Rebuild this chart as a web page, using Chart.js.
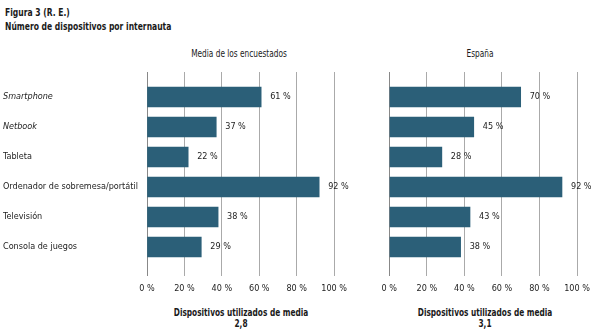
<!DOCTYPE html>
<html>
<head>
<meta charset="utf-8">
<script src="https://cdn.jsdelivr.net/npm/chart.js@4/dist/chart.umd.min.js"></script>
<style>
  html, body { margin: 0; padding: 0; background: #fff; }
  #wrap { position: relative; width: 600px; height: 336px; overflow: hidden;
          font-family: "DejaVu Sans Condensed", "DejaVu Sans", sans-serif; color: #1a1a1a; }
  .t { position: absolute; white-space: nowrap; }
  .l { transform-origin: 0 50%; transform: scaleX(0.77); }
  .c { transform-origin: 50% 50%; transform: scaleX(0.82); text-align: center; width: 200px; }
  #c1 { position: absolute; left: 0; top: 0; }
  #c2 { position: absolute; left: 345px; top: 0; }
</style>
</head>
<body>
<div id="wrap">
  <div class="t l" style="left:5px; top:6px; font-size:11px; font-weight:bold;">Figura 3 (R. E.)</div>
  <div class="t l" style="left:5px; top:20px; font-size:11px; font-weight:bold;">Número de dispositivos por internauta</div>
  <div class="t c" style="left:139px; top:48px; font-size:10px;">Media de los encuestados</div>
  <div class="t c" style="left:380px; top:48px; font-size:10px;">España</div>
  <div class="t c" style="left:141px; top:307px; font-size:10px; font-weight:bold;">Dispositivos utilizados de media</div>
  <div class="t c" style="left:141px; top:318px; font-size:10px; font-weight:bold;">2,8</div>
  <div class="t c" style="left:385px; top:307px; font-size:10px; font-weight:bold;">Dispositivos utilizados de media</div>
  <div class="t c" style="left:385px; top:318px; font-size:10px; font-weight:bold;">3,1</div>
  <canvas id="c1" width="354" height="336"></canvas>
  <canvas id="c2" width="255" height="336"></canvas>
</div>
<script>
const categories = ["Smartphone", "Netbook", "Tableta", "Ordenador de sobremesa/portátil", "Televisión", "Consola de juegos"];
const italicCategories = ["Smartphone", "Netbook"];
const mediaEncuestados = [61, 37, 22, 92, 38, 29];
const espana = [70, 45, 28, 92, 43, 38];
const xTicks = [0, 20, 40, 60, 80, 100];

const FONT = "'DejaVu Sans Condensed', 'DejaVu Sans', sans-serif";
const BAR = "#2b5f78";

const valueLabels = {
  id: "valueLabels",
  afterDatasetsDraw(chart) {
    const ctx = chart.ctx;
    const meta = chart.getDatasetMeta(0);
    ctx.save();
    ctx.font = "9px " + FONT;
    ctx.fillStyle = "#222";
    ctx.textAlign = "left";
    ctx.textBaseline = "middle";
    meta.data.forEach((el, i) => {
      const v = chart.data.datasets[0].data[i].x;
      ctx.fillText(v + " %", el.x + 9, el.y);
    });
    ctx.restore();
  }
};

function makeChart(id, values, showLabels, padLeft, padRight) {
  return new Chart(document.getElementById(id), {
    type: "bar",
    data: {
      datasets: [{
        data: values.map((v, i) => ({ x: v, y: i })),
        backgroundColor: BAR,
        borderWidth: 0,
        barThickness: 20
      }]
    },
    options: {
      indexAxis: "y",
      responsive: false,
      animation: false,
      layout: { padding: { left: padLeft, right: padRight, top: 72, bottom: 0 } },
      plugins: { legend: { display: false }, tooltip: { enabled: false } },
      scales: {
        x: {
          type: "linear",
          min: 0, max: 100,
          offset: false,
          afterBuildTicks: (s) => { s.ticks = xTicks.map(v => ({ value: v })); },
          afterFit: (s) => { s.height = 60; },
          border: { display: false },
          grid: {
            drawTicks: false,
            offset: false,
            color: (c) => c.tick && c.tick.value === 0 ? "#888" : "#aaa",
            lineWidth: 1
          },
          ticks: {
            padding: 7,
            maxRotation: 0,
            autoSkip: false,
            color: "#222",
            font: { family: FONT, size: 9 },
            callback: (v) => v + " %"
          }
        },
        y: {
          type: "linear",
          reverse: true,
          offset: false,
          bounds: "data",
          min: -0.833, max: 5.967,
          display: showLabels,
          afterBuildTicks: (s) => { s.ticks = categories.map((c, i) => ({ value: i })); },
          afterFit: (s) => { if (showLabels) s.width = 144; },
          grid: { display: false, drawTicks: false, offset: false },
          border: { display: false },
          ticks: {
            crossAlign: "far",
            padding: 0,
            autoSkip: false,
            color: "#222",
            font: (c) => ({ family: FONT, size: 9, style: italicCategories.includes(categories[c.index]) ? "italic" : "normal" }),
            callback: (v) => categories[v]
          }
        }
      }
    },
    plugins: [valueLabels]
  });
}

makeChart("c1", mediaEncuestados, true, 3, 10.5);
makeChart("c2", espana, false, 44.3, 23);
</script>
</body>
</html>
